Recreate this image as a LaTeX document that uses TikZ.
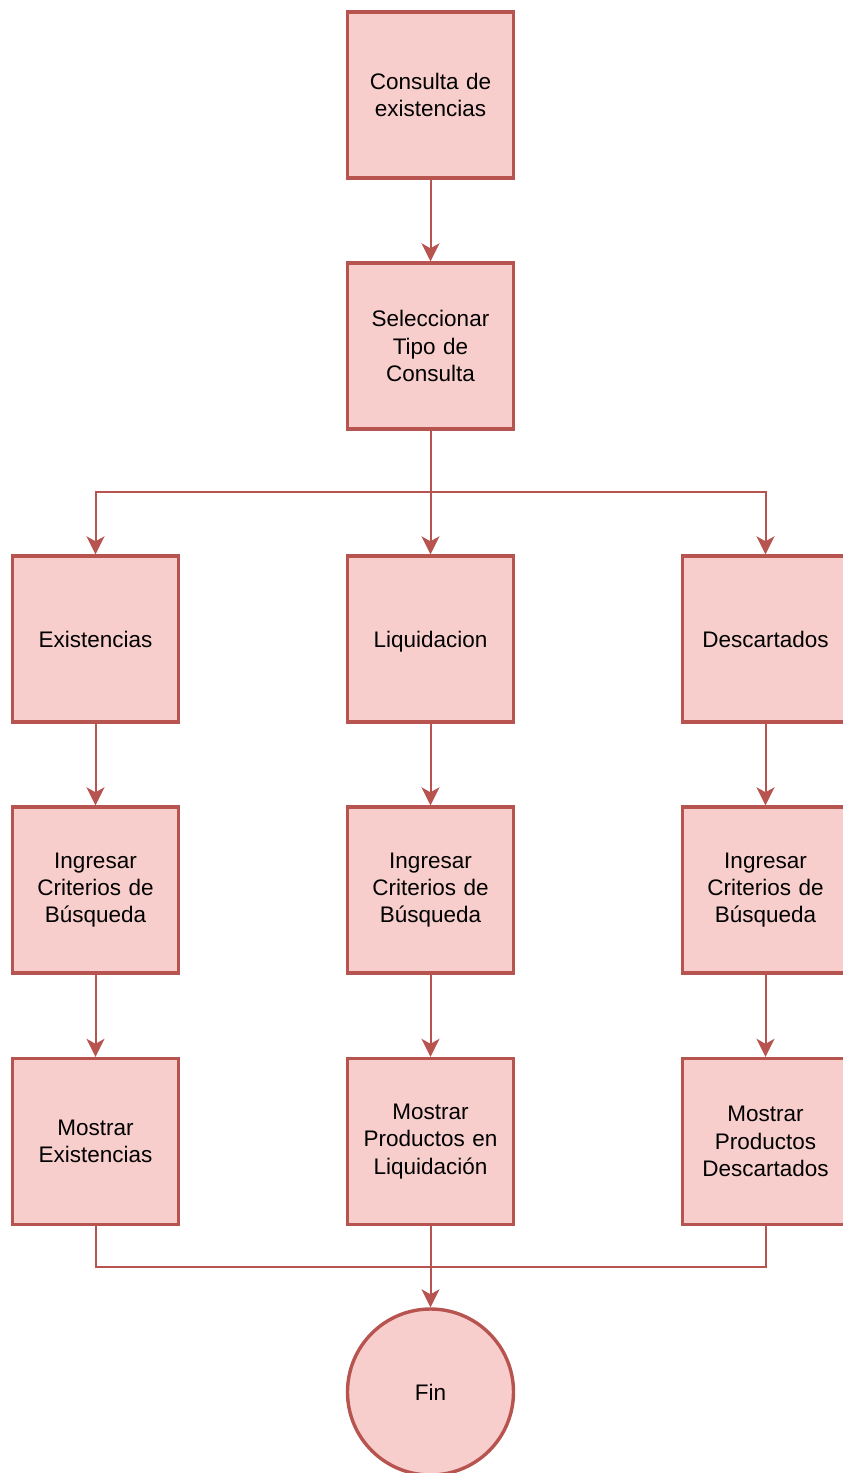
\documentclass[tikz,border=0pt]{standalone}
\usepackage{fontspec}
\setmainfont{Liberation Sans}
\usetikzlibrary{arrows.meta}
\definecolor{bred}{HTML}{B85450}
\definecolor{bpink}{HTML}{F8CECC}
\begin{document}
\begin{tikzpicture}[x=1pt,y=-1pt,
  box/.style={draw=bred, fill=bpink, line width=3.4pt, minimum width=166pt, minimum height=166pt,
    align=center, inner sep=0pt, text width=160pt, font=\fontsize{22.5}{27.4}\selectfont},
  endc/.style={circle, draw=bred, fill=bpink, line width=3.4pt, minimum size=166pt, inner sep=0pt,
    font=\fontsize{22.5}{27.4}\selectfont},
  conn/.style={draw=bred, line width=2pt, -{Stealth[length=18pt,width=18pt,inset=5pt]}},
  plain/.style={draw=bred, line width=2pt}]
\fill[white] (0,0) rectangle (843,1473);
\useasboundingbox (0,0) rectangle (843,1473);
\node[box] (cons) at (430.5,95) {Consulta de\\existencias};
\node[box] (sel) at (430.5,346) {Seleccionar\\Tipo de\\Consulta};
\node[box] (exi) at (95.5,639) {Existencias};
\node[box] (liq) at (430.5,639) {\raisebox{0pt}[\height][0pt]{Liquidacion}};
\node[box] (des) at (765.5,639) {Descartados};
\node[box] (ie) at (95.5,890) {Ingresar\\Criterios de\\Búsqueda};
\node[box] (il) at (430.5,890) {Ingresar\\Criterios de\\Búsqueda};
\node[box] (id) at (765.5,890) {Ingresar\\Criterios de\\Búsqueda};
\node[box] (me) at (95.5,1141.5) {Mostrar\\Existencias};
\node[box] (ml) at (430.5,1141.5) {Mostrar\\Productos en\\Liquidación};
\node[box] (md) at (765.5,1141.5) {Mostrar\\Productos\\Descartados};
\node[endc] (fin) at (430.5,1392) {Fin};
\coordinate (split) at (430.5,492);
\coordinate (merge) at (430.5,1267);
\draw[conn] (cons) -- (sel);
\draw[conn] (sel) -- (liq);
\draw[conn] (split) -| (exi.north);
\draw[conn] (split) -| (des.north);
\draw[conn] (exi) -- (ie);
\draw[conn] (liq) -- (il);
\draw[conn] (des) -- (id);
\draw[conn] (ie) -- (me);
\draw[conn] (il) -- (ml);
\draw[conn] (id) -- (md);
\draw[plain] (me.south) |- (merge);
\draw[plain] (md.south) |- (merge);
\draw[conn] (ml) -- (fin);
\end{tikzpicture}
\end{document}
